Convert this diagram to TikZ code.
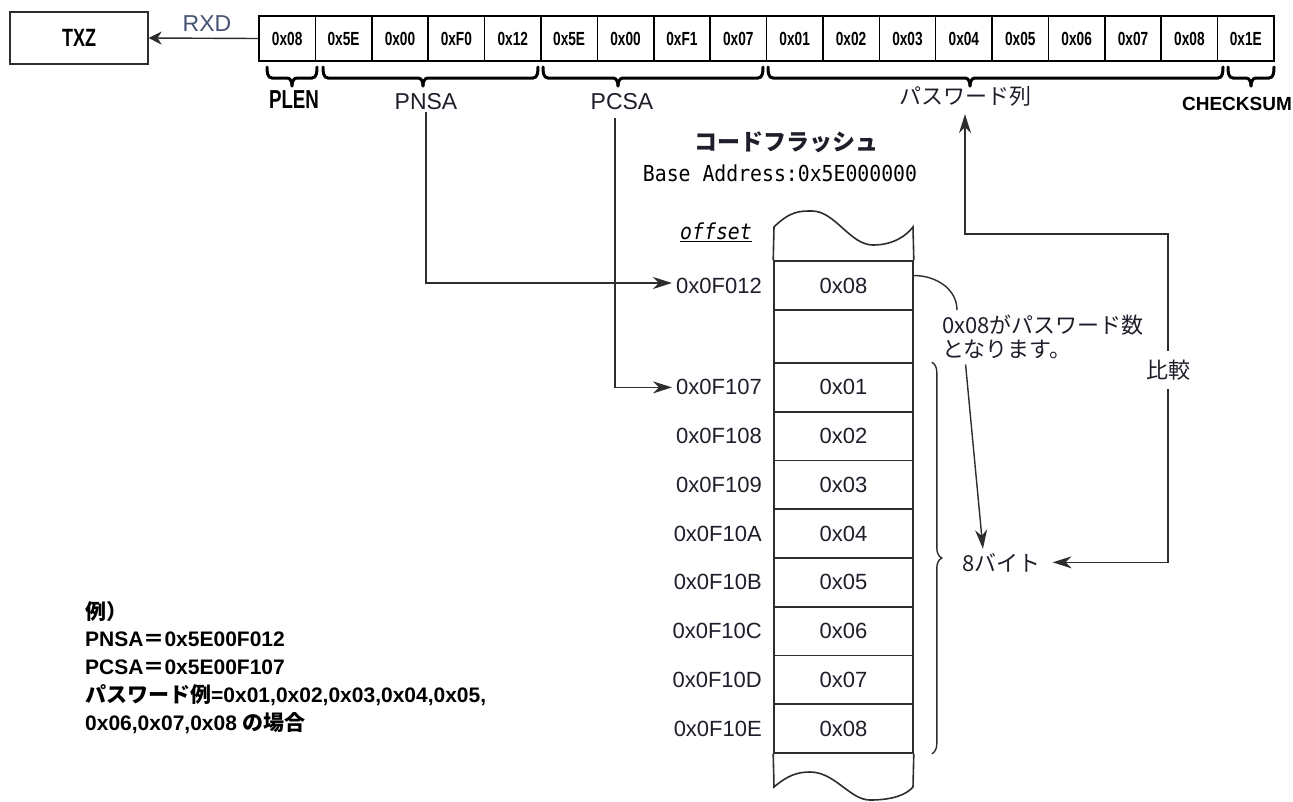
\documentclass[tikz,border=0pt]{standalone}
\usepackage{fontspec}
\setmainfont{Liberation Sans}
\newfontfamily\jp{Noto Sans CJK JP}
\newfontfamily\nar[FakeStretch=0.72]{Liberation Sans}
\newfontfamily\mono[FakeStretch=0.9]{DejaVu Sans Mono}
\usetikzlibrary{arrows.meta,decorations.pathreplacing}
\definecolor{ink}{RGB}{30,30,42}
\definecolor{ln}{RGB}{45,45,45}
\definecolor{rxd}{RGB}{70,82,115}
\newcommand\topbrace[3]{%
  \draw[brc] (#1,67) to[out=-90,in=180] (#1+5,78) -- (#2-5,78) to[out=0,in=90] (#2,86);
  \draw[brc] (#2,86) to[out=90,in=180] (#2+5,78) -- (#3-5,78) to[out=0,in=-90] (#3,67);
}
\begin{document}
\begin{tikzpicture}[x=1pt,y=-1pt,
  cell/.style={draw=black,line width=1.6pt,minimum width=56.39pt,minimum height=45pt,inner sep=0pt,font=\nar\bfseries\fontsize{19}{22}\selectfont},
  mem/.style={draw=ln,line width=1.6pt,minimum width=139pt,inner sep=0pt,font=\fontsize{22}{26}\selectfont,text=ink},
  addr/.style={font=\fontsize{22}{26}\selectfont,text=ink,inner sep=0pt,anchor=east},
  tip/.style={Stealth[length=19pt,width=12pt,inset=6pt]},
  arr/.style={draw=ln,line width=1.4pt,-{Stealth[length=19pt,width=12pt,inset=6pt]}},
  arrb/.style={draw=ln,line width=1.4pt,{Stealth[length=19pt,width=12pt,inset=6pt]}-{Stealth[length=19pt,width=12pt,inset=6pt]}},
  brc/.style={line width=3pt,black,line cap=round},
  jtxt/.style={font=\jp\fontsize{22}{26}\selectfont,text=ink,inner sep=0pt},
  lbl/.style={font=\fontsize{23}{26}\selectfont,text=ink,inner sep=0pt},
  ex/.style={font=\bfseries\fontsize{21}{24}\selectfont,anchor=base west,inner sep=0pt}
]
\useasboundingbox (0,0) rectangle (1293,801);

% TXZ box and RXD
\node[draw=ln,line width=1.2pt,minimum width=138pt,minimum height=52pt,inner sep=0pt,
      font=\nar\bfseries\fontsize{25}{28}\selectfont] (txz) at (79,38) {TXZ};
\foreach \t [count=\i] in {0x08,0x5E,0x00,0xF0,0x12,0x5E,0x00,0xF1,0x07,0x01,0x02,0x03,0x04,0x05,0x06,0x07,0x08,0x1E}
  \node[cell] (c\i) at ({259+56.39*(\i-0.5)},38.5) {\t};
\draw[draw=ln,line width=1.4pt,-{Stealth[length=13pt,width=13pt,inset=4pt]}] (c1.west) -- (txz.east);
\node[font=\fontsize{23}{26}\selectfont,text=rxd,inner sep=0pt] (rxdl) at (207,24) {RXD};

% braces under the frame
\topbrace{267}{292}{317}
\topbrace{323}{423}{538}
\topbrace{543}{618}{763}
\topbrace{768}{970}{1223}
\topbrace{1228}{1251}{1274}

\node[font=\nar\bfseries\fontsize{26}{30}\selectfont,inner sep=0pt] (plen) at (294,100) {PLEN};
\node[lbl] (pnsa) at (426,102) {PNSA};
\node[lbl] (pcsa) at (622,102) {PCSA};
\node[jtxt] (pw) at (965,96) {パスワード列};
\node[font=\bfseries\fontsize{19}{22}\selectfont,inner sep=0pt] (chk) at (1237,104) {CHECKSUM};

% code flash title
\node[font=\jp\bfseries\fontsize{23}{26}\selectfont,text=ink,inner sep=0pt] (cf) at (786,142) {コードフラッシュ};
\node[font=\mono\fontsize{22}{26}\selectfont,text=black,inner sep=0pt] (ba) at (780,173) {Base Address:0x5E000000};
\node[font=\mono\itshape\fontsize{22}{26}\selectfont,text=black,inner sep=0pt] (off) at (716,232) {\underline{offset}};

% memory column
\node[mem,minimum height=49pt] (m0) at (843.5,285.5) {0x08};
\node[mem,minimum height=53pt] (m1) at (843.5,336.5) {};
\foreach \v [count=\i] in {01,02,03,04,05,06,07,08}
  \node[mem,minimum height=48.75pt] (r\i) at (843.5,{363+48.75*(\i-0.5)}) {0x\v};
\draw[ln,line width=1.6pt] (m0.north west) -- (774,227)
  .. controls (790,211) and (800,211) .. (812,211)
  .. controls (835,211) and (850,245) .. (873,245)
  .. controls (893,245) and (906,236) .. (913,227) -- (m0.north east);
\draw[ln,line width=1.6pt] (r8.south west) -- (774,787)
  .. controls (788,775) and (798,772) .. (810,772)
  .. controls (835,772) and (850,800) .. (870,800)
  .. controls (892,800) and (906,795) .. (913,787) -- (r8.south east);

% addresses
\node[addr] (a0) at (762,286) {0x0F012};
\foreach \a [count=\i] in {07,08,09,0A,0B,0C,0D,0E}
  \node[addr] (a\i) at (762,{363+48.75*(\i-0.5)}) {0x0F1\a};

\draw[arr,shorten <=2pt,shorten >=4pt] (pnsa.south) |- ([yshift=3pt]a0.west);
\draw[arr,shorten >=4pt] ([xshift=-7pt,yshift=-8pt]pcsa.south) |- (a1.west);

% note
\node[jtxt,anchor=base west] (note1) at (942,333) {0x08がパスワード数};
\node[jtxt,anchor=base west] (note2) at (942,357) {となります。};
\draw[ln,line width=1.4pt] ([yshift=10pt]m0.east) to[out=0,in=90] ([xshift=15pt,yshift=4pt]note1.north west);

\node[jtxt,anchor=base west] (byte8) at (962,571) {8バイト};
\draw[arr,shorten <=6pt,shorten >=4pt] ([xshift=23pt]note2.south west) -- ([xshift=-18pt]byte8.north);
\draw[ln,line width=1.4pt,decorate,decoration={brace,amplitude=10pt}]
  ([xshift=18pt]r1.north east) -- ([xshift=18pt]r8.south east);

% compare
\coordinate (cmpc) at (1168,234);
\draw[arrb,shorten <=8pt,shorten >=12pt] (pw.south) |- (cmpc) |- (byte8.east);
\node[jtxt,fill=white,minimum height=38pt] (cmp) at (1168,370) {比較};

% example
\node[ex] (ex1) at (85,619) {{\jp\bfseries 例）}};
\node[ex] (ex2) at (85,646) {PNSA{\jp\bfseries ＝}0x5E00F012};
\node[ex] (ex3) at (85,674) {PCSA{\jp\bfseries ＝}0x5E00F107};
\node[ex] (ex4) at (85,702) {{\jp\bfseries パスワード例}=0x01,0x02,0x03,0x04,0x05,};
\node[ex] (ex5) at (85,730) {0x06,0x07,0x08 {\jp\bfseries の場合}};
\end{tikzpicture}
\end{document}
